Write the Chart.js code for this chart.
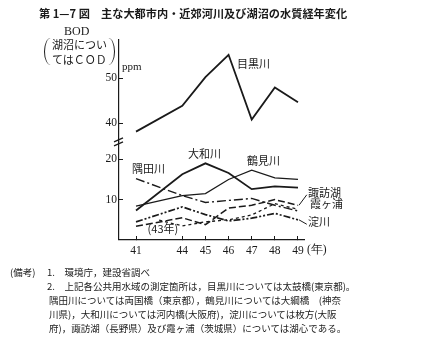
<!DOCTYPE html>
<html>
<head>
<meta charset="utf-8">
<script src="https://cdn.jsdelivr.net/npm/chart.js@4.4.0/dist/chart.umd.min.js"></script>
<style>
  body { margin: 0; background: #fff; }
  #wrap { position: relative; width: 421px; height: 339px; overflow: hidden;
          font-family: "Noto Sans CJK JP", sans-serif; color: #1a1a1a; }
  #chart { position: absolute; left: 0; top: 0; }
  .t { position: absolute; white-space: nowrap; line-height: 1; }
  .serif { font-family: "Liberation Serif", serif; }
  .paren { position: absolute; top: 38px; width: 6px; height: 27px; border: 0 solid #1a1a1a; }
</style>
</head>
<body>
<div id="wrap">
  <canvas id="chart" width="421" height="339"></canvas>

  <div class="t" style="left:39px;top:8px;font-size:11.2px;font-weight:bold;">第 1—7 図　主な大都市内・近郊河川及び湖沼の水質経年変化</div>

  <div class="t serif" style="left:64px;top:25px;font-size:12px;">BOD</div>
  <div class="paren" style="left:44px;border-left-width:1.3px;border-radius:7px 0 0 7px / 14px 0 0 14px;"></div>
  <div class="t" style="left:52px;top:39px;font-size:11px;">湖沼につい</div>
  <div class="t" style="left:52px;top:54px;font-size:11px;">てはＣＯＤ</div>
  <div class="paren" style="left:108px;border-right-width:1.3px;border-radius:0 7px 7px 0 / 0 14px 14px 0;"></div>
  <div class="t serif" style="left:122px;top:61px;font-size:11px;">ppm</div>

  <div class="t" style="left:10px;top:268px;font-size:9.5px;">(備考)</div>
  <div class="t" style="left:47px;top:268px;font-size:9.5px;">1.　環境庁，建設省調べ</div>
  <div class="t" style="left:47px;top:282px;font-size:9.5px;">2.　上記各公共用水域の測定箇所は，目黒川については太鼓橋(東京都)。</div>
  <div class="t" style="left:49px;top:296px;font-size:9.5px;">隅田川については両国橋（東京都），鶴見川については大綱橋　(神奈</div>
  <div class="t" style="left:49px;top:310px;font-size:9.5px;">川県)，大和川については河内橋(大阪府)，淀川については枚方(大阪</div>
  <div class="t" style="left:49px;top:324px;font-size:9.5px;">府)，諏訪湖（長野県）及び霞ヶ浦（茨城県）については湖心である。</div>
</div>

<script>
// years on the x axis (43 only carries the first Kasumigaura value)
const years = ["41", "43", "44", "45", "46", "47", "48", "49"];
const tickYears = ["41", "44", "45", "46", "47", "48", "49"];

// BOD (COD for lakes), ppm
const meguro  = [38.1, null, 43.9, 50.3, 55.3, 40.8, 48.0, 44.7];
const yamato  = [7.3, null, 16.3, 19.0, 16.6, 12.6, 13.3, 13.0];
const tsurumi = [8.4, null, 11.0, 11.5, 15.0, 17.3, 15.4, 15.0];
const sumida  = [15.2, null, 11.0, 9.3, 9.8, 10.3, 8.6, 7.2];
const suwa    = [3.4, null, 5.5, 3.8, 7.9, 8.6, 10.0, 8.6];
const kasumi  = [null, 4.9, 3.5, 4.5, 5.0, 6.2, 9.0, 7.6];
const yodo    = [4.5, null, 8.2, 6.3, 4.7, 5.4, 6.6, 5.0];

const upperTicks = [40, 50];
const lowerTicks = [10, 20];

const ink = "#1a1a1a";

function points(arr) {
  return arr.map((v, i) => ({ x: i, y: v }));
}

function line(label, arr, axis, width, dash) {
  return {
    label: label,
    data: points(arr),
    yAxisID: axis,
    borderColor: ink,
    borderWidth: width,
    borderDash: dash,
    pointRadius: 0,
    tension: 0,
    spanGaps: true,
    fill: false,
  };
}

// label text placed in data units of the scales
const seriesLabels = [
  { text: "目黒川", x: 4.36, y: 53.3, axis: "yTop" },
  { text: "大和川", x: 2.25, y: 21.3, axis: "yBottom" },
  { text: "鶴見川", x: 4.8, y: 19.5, axis: "yBottom" },
  { text: "隅田川", x: -0.17, y: 17.6, axis: "yBottom" },
  { text: "諏訪湖", x: 7.43, y: 11.8, axis: "yBottom" },
  { text: "霞ヶ浦", x: 7.52, y: 9.0, axis: "yBottom" },
  { text: "淀川", x: 7.43, y: 4.4, axis: "yBottom" },
  { text: "(43年)", x: 0.5, y: 2.7, axis: "yBottom" },
];

const notesPlugin = {
  id: "notes",
  afterDraw(chart) {
    const { ctx, scales } = chart;
    const xs = scales.x;
    ctx.save();
    ctx.fillStyle = ink;
    ctx.strokeStyle = ink;
    ctx.textBaseline = "middle";
    ctx.textAlign = "left";
    ctx.font = '11px "Noto Sans CJK JP"';
    seriesLabels.forEach((l) => {
      ctx.fillText(l.text, xs.getPixelForValue(l.x), scales[l.axis].getPixelForValue(l.y));
    });

    // leader lines to the lake / river names on the right
    ctx.lineWidth = 1;
    const last = years.length - 1;
    [[suwa, 11.2], [yodo, 3.9]].forEach(([arr, ty]) => {
      ctx.beginPath();
      ctx.moveTo(xs.getPixelForValue(last) + 1, scales.yBottom.getPixelForValue(arr[last]));
      ctx.lineTo(xs.getPixelForValue(7.38), scales.yBottom.getPixelForValue(ty));
      ctx.stroke();
    });

    // unit after the last year
    ctx.font = '11.5px "Liberation Serif"';
    ctx.textBaseline = "top";
    ctx.fillText("(年)", xs.getPixelForValue(last) + 9, xs.top + 4);

    // axis break marks
    const by = scales.yTop.bottom;
    const ax = xs.left;
    ctx.lineWidth = 1.2;
    [-2, 2].forEach((d) => {
      ctx.beginPath();
      ctx.moveTo(ax - 5, by + d + 2);
      ctx.lineTo(ax + 4, by + d - 2);
      ctx.stroke();
    });
    ctx.restore();
  },
};

const tickFont = { family: "Liberation Serif", size: 11.5 };

new Chart(document.getElementById("chart"), {
  type: "line",
  data: {
    datasets: [
      line("目黒川", meguro, "yTop", 1.8, []),
      line("大和川", yamato, "yBottom", 1.8, []),
      line("鶴見川", tsurumi, "yBottom", 1.2, []),
      line("隅田川", sumida, "yBottom", 1.4, [9, 3, 2, 3]),
      line("諏訪湖", suwa, "yBottom", 1.5, [7, 3]),
      line("霞ヶ浦", kasumi, "yBottom", 1.3, [3, 3]),
      line("淀川", yodo, "yBottom", 1.7, [7, 2, 2, 2, 2, 2]),
    ],
  },
  options: {
    responsive: false,
    devicePixelRatio: 1,
    animation: false,
    layout: { padding: { top: 40, left: 0, right: 117, bottom: 79 } },
    plugins: { legend: { display: false }, tooltip: { enabled: false } },
    scales: {
      x: {
        type: "linear",
        min: -0.735,
        max: 7.26,
        afterBuildTicks: (s) => {
          s.ticks = tickYears.map((y) => ({ value: years.indexOf(y) }));
        },
        afterFit: (s) => { s.height = 20; },
        ticks: {
          callback: (v) => years[v],
          autoSkip: false,
          maxRotation: 0,
          padding: 8,
          color: ink,
          font: tickFont,
        },
        grid: { drawOnChartArea: false, tickLength: -4, color: ink, lineWidth: 1 },
        border: { display: true, color: ink, width: 1.2 },
      },
      // stacked axes on the left are laid out bottom-up, so the lower one comes first
      yBottom: {
        type: "linear",
        position: "left",
        stack: "ppm",
        stackWeight: 102,
        min: 0,
        max: 24.3,
        afterBuildTicks: (s) => { s.ticks = lowerTicks.map((v) => ({ value: v })); },
        afterFit: (s) => { s.width = 119; },
        ticks: { padding: 6, color: ink, font: tickFont },
        grid: { drawOnChartArea: false, tickLength: -4, color: ink, lineWidth: 1 },
        border: { display: true, color: ink, width: 1.2 },
      },
      yTop: {
        type: "linear",
        position: "left",
        stack: "ppm",
        stackWeight: 106,
        min: 35.8,
        max: 58.6,
        afterBuildTicks: (s) => { s.ticks = upperTicks.map((v) => ({ value: v })); },
        afterFit: (s) => { s.width = 119; },
        ticks: { padding: 6, color: ink, font: tickFont },
        grid: { drawOnChartArea: false, tickLength: -4, color: ink, lineWidth: 1 },
        border: { display: true, color: ink, width: 1.2 },
      },
    },
  },
  plugins: [notesPlugin],
});
</script>
</body>
</html>
